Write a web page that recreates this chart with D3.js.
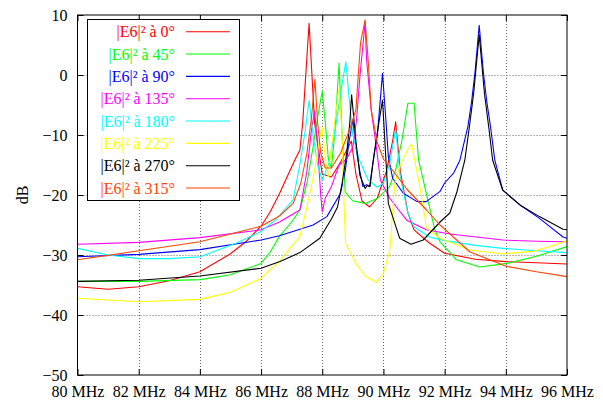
<!DOCTYPE html>
<html><head><meta charset="utf-8">
<script src="https://cdn.jsdelivr.net/npm/d3@7"></script>
<style>
html,body{margin:0;padding:0;background:#fff;}
svg{display:block;}
text{font-family:"Liberation Serif","Times New Roman",serif;font-size:16px;}
</style></head>
<body>
<svg id="chart" width="603" height="403"></svg>
<script>
// ---- data ----
const seriesNames = ["|E6|² à 0°","|E6|² à 45°","|E6|² à 90°","|E6|² à 135°","|E6|² à 180°","|E6|² à 225°","|E6|² à 270°","|E6|² à 315°"];
const seriesColors = ["#ff0000","#00ff00","#0000ff","#ff00ff","#00ffff","#ffff00","#000000","#ff4500"];

const freq0 = [80,81,82,83,84,85,85.5,86,86.3,86.6,86.85,87.1,87.27,87.36,87.57,87.75,88.0,88.3,88.6,88.8,88.95,89.1,89.3,89.55,89.8,90.1,90.3,90.4,90.55,90.8,91.0,91.5,92,93,94,95,96];
const db0   = [-35.3,-35.7,-35.3,-34.3,-32.8,-29.8,-27.8,-25.2,-22.8,-19.8,-17,-14.2,-12.5,-8,8.6,-8,-16.5,-17,-14.5,-12.5,-11,-16.5,-21,-22,-20.5,-16,-11,-7.8,-16,-23,-25.8,-28,-29.7,-30.7,-31.1,-31.3,-31.5];

const freq45 = [80,82,84,85,86,86.3,86.6,87.0,87.27,87.5,87.7,87.85,88.0,88.1,88.2,88.3,88.42,88.55,88.65,88.75,89.0,89.4,89.8,90.2,90.4,90.6,90.8,91.0,91.15,91.4,91.68,91.85,92.39,93.15,94.03,95,96];
const db45   = [-34.4,-34.4,-34.1,-33.3,-31.4,-29.5,-26.9,-24.5,-22.5,-18,-12,-7,-2.7,-8,-14,-15.5,-9,2,-10,-19.5,-21,-21.4,-20.6,-18.6,-15.8,-11,-4.7,-4.7,-14.2,-19.7,-25.8,-27.8,-30.8,-32,-31.4,-30.2,-28.6];

const freq90 = [80,82,84,86,86.6,87.27,87.7,88.15,88.6,88.75,88.88,89.0,89.1,89.23,89.33,89.45,89.55,89.65,89.8,89.97,90.08,90.16,90.3,90.65,91.1,91.4,91.85,92.0,92.3,92.5,92.76,92.88,92.99,93.13,93.27,93.38,93.5,93.64,93.9,94.5,95.1,95.87,96];
const db90   = [-30.3,-29.9,-29.1,-27.5,-26.8,-25.7,-25,-23.6,-19.7,-16,-11,-7.5,-12,-16.1,-18.6,-18.3,-18.6,-14.8,-10,0.3,-7.5,-13.6,-17.2,-19.7,-21.1,-21.1,-19.4,-18,-16.3,-14.2,-8.6,-4.5,0.3,8.3,0.3,-4.5,-8.6,-14.2,-19.2,-21.8,-23.9,-27,-27.2];

const freq135 = [80,82,84,86,86.6,87.27,87.5,87.65,87.75,87.85,87.95,88.0,88.1,88.3,88.55,88.8,89.0,89.12,89.23,89.4,89.45,89.6,89.78,89.9,90.2,90.5,90.76,91.4,92.17,93.9,95,96];
const db135   = [-28.2,-27.9,-27.1,-25.8,-24.5,-22.5,-16,-9,-6,-12,-20,-22.8,-20.5,-18.6,-15,-14,-12,-7.5,-0.3,8.7,2.5,-5.8,-12.5,-17.5,-20.5,-22.5,-24.2,-25.8,-26.5,-27.5,-27.7,-27.8];

const freq180 = [80,81,82,83,84,85.2,86,86.5,87.05,87.3,87.45,87.57,87.7,87.85,88.0,88.2,88.4,88.6,88.77,88.9,89.0,89.2,89.5,89.8,90.0,90.2,90.4,90.55,90.8,91.0,91.5,92.0,93.0,93.9,95,96];
const db180   = [-28.9,-30.0,-30.6,-30.6,-30.3,-28,-26.1,-24,-20.8,-14,-9,-4.2,-10,-15,-17.5,-15,-10,-3,2.2,-5,-10,-14,-17.5,-18.7,-18,-15,-9,-17,-23,-25.3,-27,-27.6,-28.4,-28.9,-29.3,-29.6];

const freq225 = [80,82,84,85,86,86.6,87.27,87.5,87.75,87.9,88.0,88.1,88.2,88.3,88.45,88.55,88.65,88.7,88.76,89.1,89.4,89.78,90.0,90.21,90.37,90.55,90.76,90.92,91.19,91.41,91.85,92.83,93.9,94.89,95.5,96];
const db225   = [-37.2,-37.8,-37.4,-36.2,-33.9,-31,-26.9,-22,-16,-11,-8.7,-14,-17,-12,-6,-2.2,-10,-19.7,-28,-31.4,-33.5,-34.6,-33,-29.2,-18,-15,-12.8,-11.5,-18.6,-25.5,-27.2,-29.2,-29.8,-29.4,-28.5,-27.6];

const freq270 = [80,82,84,86,86.62,87.27,87.92,88.3,88.5,88.65,88.8,88.9,88.96,89.1,89.23,89.4,89.48,89.56,89.7,89.85,89.97,90.08,90.16,90.3,90.53,90.9,91.3,91.85,92.17,92.4,92.66,92.8,92.95,93.13,93.3,93.45,93.57,93.9,94.5,95.1,95.87,96];
const db270   = [-34.4,-34.2,-33.5,-32.2,-31.1,-29.6,-27.2,-24,-22,-18,-13,-8,-3.3,-11,-16.7,-18.9,-18.4,-18.6,-13,-8,-4.2,-14,-21.4,-23.6,-27.2,-28.2,-27.5,-24.5,-23,-19.5,-14.2,-9,-3,6.7,-3,-9,-14.2,-19.2,-21.8,-23.6,-25.7,-25.8];

const freq315 = [80,82,84,86,86.6,87.05,87.3,87.5,87.65,87.76,87.85,87.95,88.1,88.3,88.6,88.9,89.1,89.25,89.4,89.5,89.6,89.8,90.0,90.32,90.76,91.41,91.85,92.83,94.03,95,96];
const db315   = [-30.8,-29.3,-27.8,-25.2,-23.5,-21.4,-18,-13,-7,-0.7,-8,-13,-15.5,-15.5,-13,-9,-5.8,5.3,9.2,2.5,-5.8,-11.3,-14,-16,-19,-22.5,-25,-29.5,-31.9,-32.8,-33.6];

const xTicks = [80,82,84,86,88,90,92,94,96];
const yTicks = [10,0,-10,-20,-30,-40,-50];
const yLabel = "dB";

const series = [
  [freq0,db0],[freq45,db45],[freq90,db90],[freq135,db135],
  [freq180,db180],[freq225,db225],[freq270,db270],[freq315,db315]
].map((p,i)=>({name:seriesNames[i],color:seriesColors[i],pts:p[0].map((f,j)=>[f,p[1][j]])}));

// ---- drawing ----
const svg = d3.select("#chart");
const L=77.5, R=567, T=15, B=375;
const x = d3.scaleLinear().domain([80,96]).range([L,R]);
const y = d3.scaleLinear().domain([-50,10]).range([B,T]);

// grid
const grid = svg.append("g").attr("stroke","#6a6a6a").attr("stroke-width",1).attr("stroke-dasharray","1,2");
xTicks.slice(1,-1).forEach(t=>grid.append("line").attr("x1",Math.round(x(t))+0.5).attr("x2",Math.round(x(t))+0.5).attr("y1",T).attr("y2",B));
yTicks.slice(1,-1).forEach(t=>grid.append("line").attr("x1",L).attr("x2",R).attr("y1",Math.round(y(t))+0.5).attr("y2",Math.round(y(t))+0.5));

// clip
svg.append("clipPath").attr("id","clip").append("rect").attr("x",L).attr("y",T).attr("width",R-L).attr("height",B-T);

const line = d3.line().x(d=>x(d[0])).y(d=>y(d[1])).curve(d3.curveLinear);
const gLines = svg.append("g").attr("clip-path","url(#clip)");
series.forEach(s=>{
  gLines.append("path").attr("d",line(s.pts)).attr("fill","none").attr("stroke",s.color).attr("stroke-width",1.1).attr("stroke-linejoin","round");
});

// axes
const fmtY = d3.format("d");
const axB = svg.append("g").attr("transform",`translate(0,${B})`)
  .call(d3.axisBottom(x).tickValues(xTicks).tickFormat(d=>d+" MHz").tickSizeInner(-6).tickSizeOuter(0).tickPadding(11));
const axT = svg.append("g").attr("transform",`translate(0,${T})`)
  .call(d3.axisTop(x).tickValues(xTicks).tickFormat("").tickSizeInner(-6).tickSizeOuter(0));
const axL = svg.append("g").attr("transform",`translate(${L},0)`)
  .call(d3.axisLeft(y).tickValues(yTicks).tickFormat(fmtY).tickSizeInner(-6).tickSizeOuter(0).tickPadding(10));
const axR = svg.append("g").attr("transform",`translate(${R},0)`)
  .call(d3.axisRight(y).tickValues(yTicks).tickFormat("").tickSizeInner(-6).tickSizeOuter(0));
[axB,axT,axL,axR].forEach(a=>{
  a.select(".domain").remove();
  a.selectAll("text").attr("font-family","Liberation Serif, serif").attr("font-size",16).attr("fill","#000");
  a.selectAll("line").attr("stroke","#000");
});

// border
svg.append("rect").attr("x",L).attr("y",T).attr("width",R-L).attr("height",B-T).attr("fill","none").attr("stroke","#000").attr("stroke-width",1);

// y label
svg.append("text").attr("transform",`translate(22,195) rotate(-90)`).attr("text-anchor","middle").attr("dy","0.35em").text(yLabel);

// legend
const lg = svg.append("g");
lg.append("rect").attr("x",87.5).attr("y",19.5).attr("width",152).attr("height",181).attr("fill","#fff").attr("stroke","#000").attr("stroke-width",1);
series.forEach((s,i)=>{
  const yy = 31.7 + i*22.33;
  lg.append("text").attr("x",175).attr("y",yy).attr("dy","0.35em").attr("text-anchor","end").attr("fill",s.color).text(s.name);
  lg.append("line").attr("x1",186).attr("x2",230).attr("y1",yy).attr("y2",yy).attr("stroke",s.color).attr("stroke-width",1.1);
});
</script>
</body></html>
